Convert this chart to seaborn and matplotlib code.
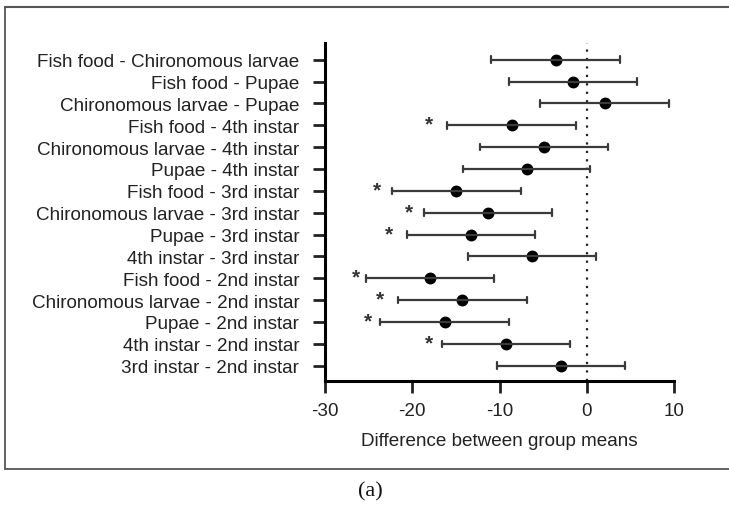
import matplotlib
matplotlib.use("Agg")
import matplotlib.pyplot as plt
import seaborn as sns
import pandas as pd
from matplotlib.lines import Line2D

comparisons = [
    "Fish food - Chironomous larvae",
    "Fish food - Pupae",
    "Chironomous larvae - Pupae",
    "Fish food - 4th instar",
    "Chironomous larvae - 4th instar",
    "Pupae - 4th instar",
    "Fish food - 3rd instar",
    "Chironomous larvae - 3rd instar",
    "Pupae - 3rd instar",
    "4th instar - 3rd instar",
    "Fish food - 2nd instar",
    "Chironomous larvae - 2nd instar",
    "Pupae - 2nd instar",
    "4th instar - 2nd instar",
    "3rd instar - 2nd instar",
]
mean_diff = [-3.6, -1.6, 2.05, -8.6, -4.9, -6.9, -15.0, -11.3, -13.3, -6.3,
             -17.95, -14.3, -16.3, -9.3, -2.95]
ci_low = [-10.95, -8.95, -5.35, -16.0, -12.25, -14.25, -22.35, -18.65, -20.6, -13.65,
          -25.3, -21.65, -23.65, -16.65, -10.35]
ci_high = [3.75, 5.75, 9.4, -1.25, 2.4, 0.3, -7.6, -3.95, -5.9, 1.05,
           -10.6, -6.9, -8.9, -1.95, 4.4]
significant = [False, False, False, True, False, False, True, True, True, False,
               True, True, True, True, False]
star_x = [None, None, None, -18.1, None, None, -24.1, -20.4, -22.7, None,
          -26.4, -23.7, -25.1, -18.1, None]
x_ticks = [-30, -20, -10, 0, 10]

rows = []
for c, lo, m, hi in zip(comparisons, ci_low, mean_diff, ci_high):
    for v in (lo, m, hi):
        rows.append({"comparison": c, "diff": v})
df = pd.DataFrame(rows)

sns.set_style("ticks")
plt.rcParams["font.family"] = ["Liberation Sans", "DejaVu Sans"]

W, H = 729, 506
fig = plt.figure(figsize=(W / 100, H / 100), dpi=100)
left_px, right_px, top_px, bot_px = 325, 674.3, 44, 381.7
ax = fig.add_axes([left_px / W, 1 - bot_px / H, (right_px - left_px) / W, (bot_px - top_px) / H])

sns.pointplot(data=df, x="diff", y="comparison", order=comparisons,
              estimator="median", errorbar=("pi", 100), orient="h",
              linestyle="none", color="black", markersize=6.5, capsize=0.3,
              err_kws={"color": "#3a3a3a", "linewidth": 1.6}, ax=ax)

ax.axvline(0, color="#222222", linestyle=(0, (1, 2.8)), linewidth=1.6, zorder=0)

for i, (sig, sx) in enumerate(zip(significant, star_x)):
    if sig:
        ax.text(sx, i - 0.05, "*", ha="center", va="center", fontsize=15,
                fontweight="bold", color="#333333")

ax.set_xlim(-30, 10)
ax.set_ylim(14.686, -0.764)
ax.set_xticks(x_ticks)
ax.set_xticklabels([str(t) for t in x_ticks])
ax.set_xlabel("Difference between group means", fontsize=13.6, color="#222222", labelpad=9)
ax.set_ylabel("")
ax.tick_params(axis="both", labelsize=13.6, colors="#222222", width=2, length=8.5)
ax.tick_params(axis="x", pad=7)
ax.tick_params(axis="y", pad=10)
for s in ("top", "right"):
    ax.spines[s].set_visible(False)
for s in ("left", "bottom"):
    ax.spines[s].set_linewidth(2.2)
    ax.spines[s].set_color("black")
ax.set_facecolor("white")

# outer frame
fc = "#555555"
fig.add_artist(Line2D([5 / W, 5 / W], [1 - 8 / H, 1 - 470 / H], transform=fig.transFigure, color=fc, lw=1.3))
fig.add_artist(Line2D([5 / W, 1.0], [1 - 8 / H, 1 - 8 / H], transform=fig.transFigure, color=fc, lw=1.5))
fig.add_artist(Line2D([5 / W, 1.0], [1 - 470 / H, 1 - 470 / H], transform=fig.transFigure, color=fc, lw=1.3))

fig.text(370 / W, 1 - 492 / H, "(a)", ha="center", va="center", fontsize=16,
         family=["Liberation Serif", "DejaVu Serif"], color="#111111")

fig.savefig("out.png", dpi=100, facecolor="white")
